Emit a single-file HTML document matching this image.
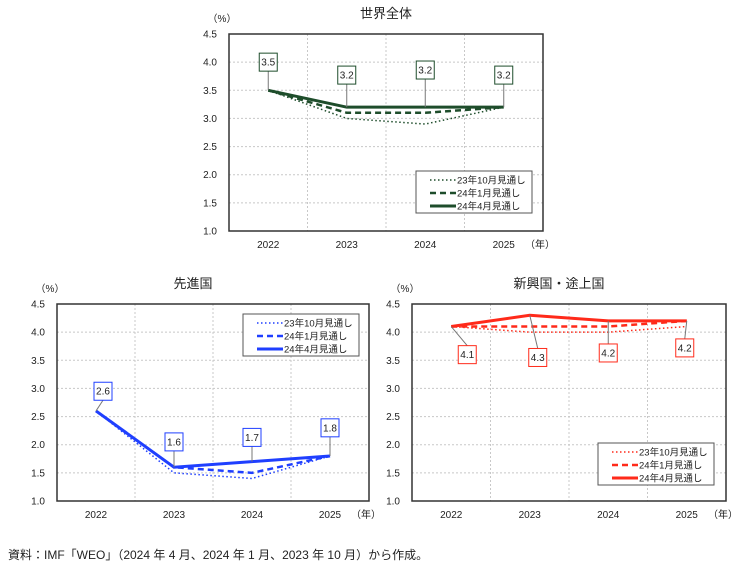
<!DOCTYPE html>
<html><head><meta charset="utf-8"><style>
body{margin:0;background:#fff;width:736px;height:570px;overflow:hidden;font-family:"Liberation Sans","Noto Sans CJK JP",sans-serif}
svg text{font-family:"Liberation Sans","Noto Sans CJK JP",sans-serif}
#note{position:absolute;left:8px;top:546px;font-size:12px;color:#222}
</style></head><body>
<svg id="svg" width="736" height="570" style="position:absolute;left:0;top:0"></svg>
<div id="note">資料：IMF「WEO」（2024 年 4 月、2024 年 1 月、2023 年 10 月）から作成。</div>
<script>
const categories = ["2022","2023","2024","2025"];
const yTicks = ["1.0","1.5","2.0","2.5","3.0","3.5","4.0","4.5"];
const seriesNames = ["23年10月見通し","24年1月見通し","24年4月見通し"];
const worldOct = [3.5,3.0,2.9,3.2];
const worldJan = [3.5,3.1,3.1,3.2];
const worldApr = [3.5,3.2,3.2,3.2];
const advOct = [2.6,1.5,1.4,1.8];
const advJan = [2.6,1.6,1.5,1.8];
const advApr = [2.6,1.6,1.7,1.8];
const emOct = [4.1,4.0,4.0,4.1];
const emJan = [4.1,4.1,4.1,4.2];
const emApr = [4.1,4.3,4.2,4.2];
const worldLabelY = [4.0,3.77,3.86,3.77];
const advLabelY = [2.95,2.05,2.13,2.3];
const emLabelY = [3.6,3.55,3.63,3.72];

const NS="http://www.w3.org/2000/svg";
const svg=document.getElementById('svg');
function mk(tag,attrs,parent){const e=document.createElementNS(NS,tag);for(const k in attrs)e.setAttribute(k,attrs[k]);(parent||svg).appendChild(e);return e;}

function chart(o){
  const g=mk('g',{});
  
  
  const x0=o.x0,x1=o.x1,y0=o.y0,y1=o.y1;
  const yMin=1.0,yMax=4.5;
  const ys=v=>y1-(v-yMin)/(yMax-yMin)*(y1-y0);
  const bw=(x1-x0)/categories.length;
  const xs=i=>x0+bw*(i+0.5);
  yTicks.forEach(t=>{const v=parseFloat(t);const y=ys(v);
    const l=mk('line',{x1:x0,x2:x1,y1:y,y2:y,stroke:'#c8c8c8','stroke-dasharray':'2,2','stroke-width':1},g);
    
    
    const tx=mk('text',{x:x0-12,y:y+3.5,'font-size':10,'text-anchor':'end',fill:'#222'},g);
    tx.textContent=t;
    
    
  });
  for(let i=1;i<categories.length;i++){const x=x0+bw*i;
    const l=mk('line',{x1:x,x2:x,y1:y0,y2:y1,stroke:'#c8c8c8','stroke-dasharray':'2,2'},g);
    
    }
  categories.forEach((c,i)=>{const t=mk('text',{x:xs(i),y:y1+17,'font-size':10,'text-anchor':'middle',fill:'#222'},g);t.textContent=c;
    
    });
  const fr=mk('rect',{x:x0,y:y0,width:x1-x0,height:y1-y0,fill:'none',stroke:'#333','stroke-width':1.5},g);
  
  
  const ti=mk('text',{x:(x0+x1)/2+(o.titleDx||0),y:y0-16,'font-size':13,'text-anchor':'middle',fill:'#222'},g);ti.textContent=o.title;
  
  
  const pc=mk('text',{x:x0-7,y:y0-12,'font-size':10,'text-anchor':'middle',fill:'#222'},g);pc.textContent='（%）';
  
  
  const yr=mk('text',{x:x1-3,y:y1+17,'font-size':10,'text-anchor':'middle',fill:'#222'},g);yr.textContent='（年）';
  
  
  const styles=[{w:1.5,d:'1.5,2.5'},{w:2.5,d:'6,4'},{w:3,d:''}];
  const names=['series-oct-2023','series-jan-2024','series-apr-2024'];
  o.series.forEach((s,k)=>{const pts=s.map((v,i)=>xs(i)+','+ys(v)).join(' ');
    const p=mk('polyline',{points:pts,fill:'none',stroke:o.color,'stroke-width':styles[k].w,'stroke-dasharray':styles[k].d},g);
    
    });
  const last=o.series[2];
  last.forEach((v,i)=>{const px=xs(i),py=ys(v);const ly=ys(o.labelY[i]);const bx=px+(o.labelDx?o.labelDx[i]:0);
    const above=ly<py;
    const ln=mk('line',{x1:px,y1:py,x2:bx,y2:above?ly+9:ly-9,stroke:'#777','stroke-width':1},g);
    
    
    const r=mk('rect',{x:bx-9,y:ly-9,width:18,height:18,fill:'#fff',stroke:o.color,'stroke-width':1},g);
    
    
    const t=mk('text',{x:bx,y:ly+3.5,'font-size':10,'text-anchor':'middle',fill:'#222'},g);t.textContent=v.toFixed(1);
    
    });
  const lg=mk('g',{},g);
  
  
  mk('rect',{x:o.lx,y:o.ly,width:116,height:42,fill:'#fff',stroke:'#555','stroke-width':1},lg);
  seriesNames.forEach((n,k)=>{const yy=o.ly+9+k*13;
    mk('line',{x1:o.lx+14,x2:o.lx+40,y1:yy,y2:yy,stroke:o.color,'stroke-width':styles[k].w,'stroke-dasharray':styles[k].d},lg);
    const t=mk('text',{x:o.lx+41,y:yy+3.5,'font-size':9.5,fill:'#222'},lg);t.textContent=n;
    
    });
}
chart({name:'world-chart',title:'世界全体',x0:229,x1:543,y0:34,y1:231,color:'#1e4d2b',series:[worldOct,worldJan,worldApr],labelY:worldLabelY,lx:416,ly:171});
chart({name:'advanced-chart',title:'先進国',x0:57,x1:369,y0:304,y1:501,color:'#1f3fff',series:[advOct,advJan,advApr],labelY:advLabelY,labelDx:[7,0,0,0],lx:243,ly:314,titleDx:-20});
chart({name:'emerging-chart',title:'新興国・途上国',x0:412,x1:726,y0:304,y1:501,color:'#ff2a1a',series:[emOct,emJan,emApr],labelY:emLabelY,labelDx:[16,8,0,-2],lx:598,ly:443,titleDx:-10});
</script>
</body></html>
